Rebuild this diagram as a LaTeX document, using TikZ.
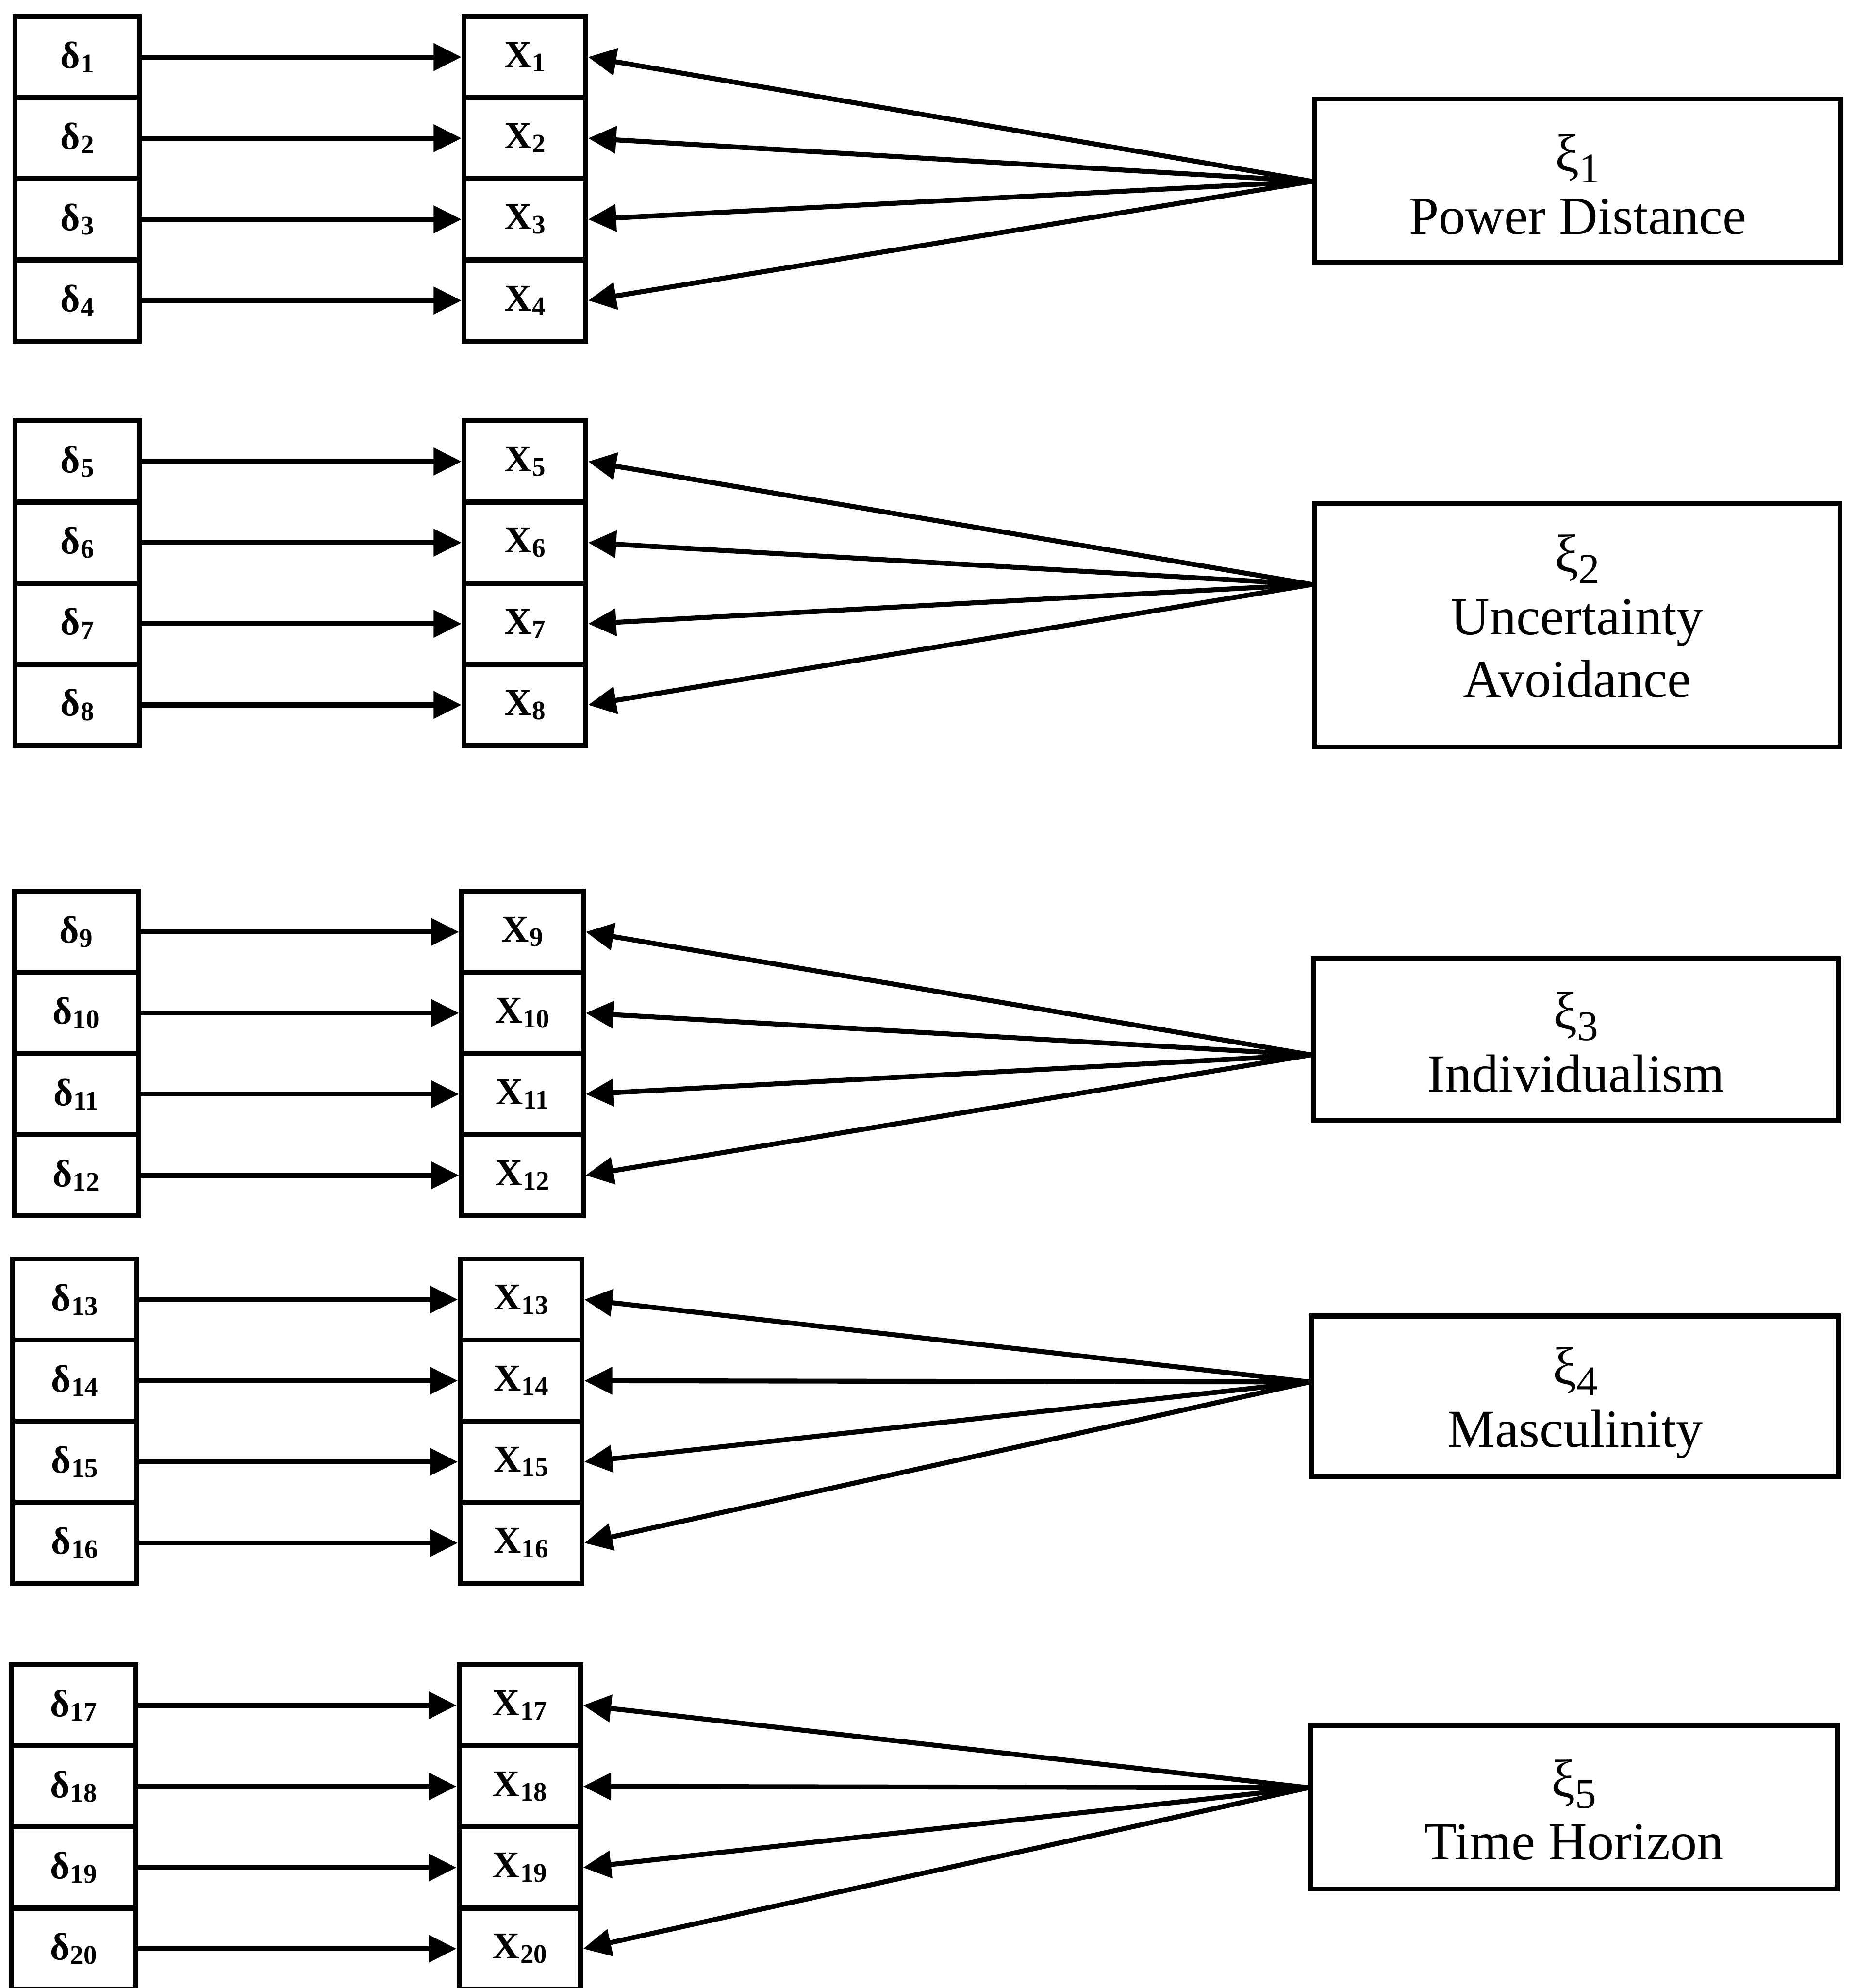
\documentclass[tikz,border=0pt]{standalone}
\usepackage{fontspec}
\setmainfont{Liberation Serif}
\usetikzlibrary{arrows.meta}

% indicator label with a small lowered index
\newcommand{\ind}[2]{#1\kern0.01em\raisebox{-1pt}{\fontsize{6}{6}\selectfont #2}}
% latent factor symbol with its index
\newcommand{\lat}[1]{ξ\raisebox{-2.5pt}{\fontsize{9.5}{9.5}\selectfont #1}}

\begin{document}
\begin{tikzpicture}[x=0.01cm,y=-0.01cm,
  cellbox/.style={draw, line width=1.1pt, inner sep=0pt, minimum height=0.64cm,
    font=\fontsize{8.5}{9}\selectfont\bfseries},
  dcell/.style={cellbox, minimum width=0.98cm},
  xcell/.style={cellbox, minimum width=0.96cm},
  latbox/.style={draw, line width=1.1pt, inner sep=0pt},
  lattext/.style={inner sep=0pt, align=center, font=\fontsize{12}{14}\selectfont},
  arr/.style={line width=1.1pt, -{Triangle[length=0.22cm,width=0.21cm]}}]

\useasboundingbox (0,0) rectangle (1463,1568);

% error terms and indicators, four per factor
\foreach \g/\dx/\xx/\top in {1/12/366/13, 2/12/366/332, 3/11/364/703, 4/10/363/993, 5/9/362/1313} {
  \foreach \i in {1,...,4} {
    \pgfmathtruncatemacro\n{4*(\g-1)+\i}
    \pgfmathsetmacro\cy{\top+32+64*(\i-1)}
    \node[dcell] (d\n) at (\dx+49,\cy) {\ind{δ}{\n}};
    \node[xcell] (x\n) at (\xx+48,\cy) {\ind{X}{\n}};
    \draw[arr] (d\n) -- (x\n);
  }
}

% latent factors
\node[latbox, minimum width=4.15cm, minimum height=1.29cm] (L1) at (1244.5,142.5) {};
\node[latbox, minimum width=4.14cm, minimum height=1.92cm] (L2) at (1244,493) {};
\node[latbox, minimum width=4.14cm, minimum height=1.28cm] (L3) at (1243,820) {};
\node[latbox, minimum width=4.15cm, minimum height=1.27cm] (L4) at (1242.5,1101.5) {};
\node[latbox, minimum width=4.15cm, minimum height=1.29cm] (L5) at (1241.5,1425.5) {};

\node[lattext] (T1) at ([yshift=-0.03cm]L1.center) {\lat{1}\\Power Distance};
\node[lattext] (T2) at ([yshift=0.07cm]L2.center) {\lat{2}\\Uncertainty\\Avoidance};
\node[lattext] (T3) at ([yshift=-0.02cm]L3.center) {\lat{3}\\Individualism};
\node[lattext] (T4) at ([yshift=-0.05cm]L4.center) {\lat{4}\\Masculinity};
\node[lattext] (T5) at ([yshift=-0.02cm]L5.center) {\lat{5}\\Time Horizon};

% points on each factor box where its loadings start
\coordinate (p1) at (L1.west |- 0,143);
\coordinate (p2) at (L2.west |- 0,461);
\coordinate (p3) at (L3.west |- 0,832);
\coordinate (p4) at (L4.west |- 0,1090);
\coordinate (p5) at (L5.west |- 0,1410);

% factor loadings
\foreach \g in {1,...,5} {
  \foreach \i in {1,...,4} {
    \pgfmathtruncatemacro\n{4*(\g-1)+\i}
    \draw[arr] (p\g) -- (x\n.east);
  }
}
\end{tikzpicture}
\end{document}
